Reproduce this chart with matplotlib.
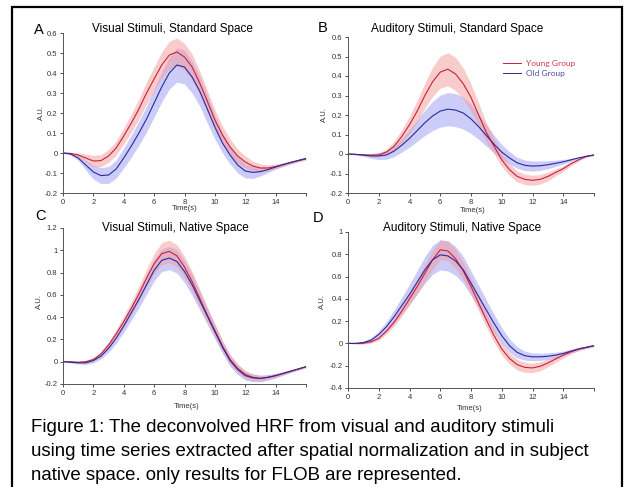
import numpy as np
import matplotlib.pyplot as plt
from matplotlib.patches import Rectangle

# time grid (s)
time_s = np.arange(0, 16.5, 0.5)

# A: visual, standard space
vis_std_young = [0, -0.002, -0.01, -0.025, -0.04, -0.038, -0.015, 0.025, 0.085, 0.15, 0.22, 0.30, 0.37,
                 0.44, 0.49, 0.505, 0.48, 0.43, 0.35, 0.26, 0.165, 0.09, 0.03, -0.015, -0.045, -0.065,
                 -0.075, -0.075, -0.068, -0.058, -0.048, -0.038, -0.03]
vis_std_old = [0, -0.005, -0.025, -0.06, -0.095, -0.113, -0.11, -0.08, -0.025, 0.035, 0.10, 0.17, 0.25,
               0.33, 0.40, 0.44, 0.43, 0.38, 0.31, 0.22, 0.13, 0.05, -0.01, -0.06, -0.09, -0.097,
               -0.093, -0.083, -0.07, -0.058, -0.047, -0.037, -0.027]
vis_std_young_err = [0, 0.005, 0.01, 0.02, 0.028, 0.03, 0.032, 0.035, 0.04, 0.045, 0.05, 0.055, 0.06,
                     0.065, 0.068, 0.07, 0.068, 0.065, 0.06, 0.055, 0.05, 0.045, 0.04, 0.035, 0.03,
                     0.025, 0.02, 0.015, 0.012, 0.01, 0.008, 0.006, 0.005]
vis_std_old_err = [0, 0.005, 0.012, 0.025, 0.035, 0.04, 0.042, 0.045, 0.05, 0.055, 0.06, 0.065, 0.07,
                   0.075, 0.08, 0.085, 0.085, 0.08, 0.075, 0.07, 0.06, 0.05, 0.045, 0.04, 0.035, 0.03,
                   0.022, 0.015, 0.01, 0.008, 0.006, 0.005, 0.004]

# B: auditory, standard space
aud_std_young = [0, -0.002, -0.005, -0.006, -0.005, 0.01, 0.04, 0.09, 0.15, 0.22, 0.30, 0.37, 0.42,
                 0.435, 0.41, 0.36, 0.29, 0.20, 0.11, 0.04, -0.03, -0.08, -0.115, -0.13, -0.135, -0.13,
                 -0.115, -0.095, -0.075, -0.05, -0.03, -0.012, -0.005]
aud_std_old = [0, -0.002, -0.005, -0.01, -0.01, -0.005, 0.015, 0.045, 0.08, 0.12, 0.16, 0.195, 0.22,
               0.23, 0.225, 0.21, 0.18, 0.14, 0.095, 0.05, 0.01, -0.02, -0.045, -0.058, -0.062, -0.06,
               -0.055, -0.048, -0.04, -0.03, -0.02, -0.012, -0.005]
aud_std_young_err = [0, 0.003, 0.005, 0.008, 0.01, 0.015, 0.025, 0.035, 0.045, 0.055, 0.065, 0.075,
                     0.082, 0.085, 0.085, 0.08, 0.07, 0.06, 0.05, 0.04, 0.035, 0.03, 0.028, 0.027,
                     0.026, 0.025, 0.022, 0.018, 0.014, 0.01, 0.007, 0.004, 0.002]
aud_std_old_err = [0, 0.003, 0.006, 0.012, 0.018, 0.022, 0.028, 0.035, 0.045, 0.055, 0.065, 0.075,
                   0.082, 0.085, 0.085, 0.082, 0.075, 0.065, 0.055, 0.045, 0.038, 0.032, 0.028, 0.027,
                   0.026, 0.024, 0.02, 0.016, 0.012, 0.008, 0.005, 0.003, 0.002]

# C: visual, native space
vis_nat_young = [0, 0, -0.005, 0.0, 0.02, 0.07, 0.15, 0.25, 0.36, 0.48, 0.61, 0.75, 0.88, 0.97, 0.99,
                 0.95, 0.85, 0.72, 0.57, 0.42, 0.28, 0.14, 0.02, -0.06, -0.115, -0.14, -0.15, -0.14,
                 -0.125, -0.105, -0.085, -0.065, -0.045]
vis_nat_old = [0, -0.005, -0.01, -0.01, 0.01, 0.05, 0.12, 0.21, 0.32, 0.44, 0.56, 0.69, 0.82, 0.91,
               0.93, 0.90, 0.81, 0.69, 0.55, 0.41, 0.27, 0.13, 0.01, -0.07, -0.125, -0.145, -0.15,
               -0.14, -0.125, -0.105, -0.085, -0.065, -0.045]
vis_nat_young_err = [0, 0.005, 0.01, 0.012, 0.015, 0.02, 0.03, 0.04, 0.05, 0.06, 0.07, 0.08, 0.09, 0.1,
                     0.1, 0.1, 0.095, 0.09, 0.08, 0.07, 0.06, 0.05, 0.045, 0.04, 0.035, 0.03, 0.025,
                     0.02, 0.018, 0.015, 0.012, 0.01, 0.008]
vis_nat_old_err = [0, 0.005, 0.01, 0.015, 0.02, 0.025, 0.035, 0.045, 0.055, 0.065, 0.075, 0.085, 0.095,
                   0.1, 0.105, 0.105, 0.1, 0.095, 0.085, 0.075, 0.065, 0.055, 0.05, 0.045, 0.04, 0.035,
                   0.03, 0.025, 0.02, 0.015, 0.012, 0.01, 0.008]

# D: auditory, native space
aud_nat_young = [0, 0, 0.002, 0.015, 0.045, 0.11, 0.19, 0.29, 0.40, 0.51, 0.63, 0.75, 0.84, 0.83,
                 0.76, 0.65, 0.51, 0.36, 0.21, 0.07, -0.05, -0.135, -0.19, -0.215, -0.22, -0.205,
                 -0.175, -0.14, -0.105, -0.075, -0.05, -0.035, -0.02]
aud_nat_old = [0, 0, 0.008, 0.03, 0.08, 0.15, 0.24, 0.34, 0.44, 0.55, 0.66, 0.75, 0.795, 0.785, 0.74,
               0.66, 0.54, 0.42, 0.30, 0.18, 0.07, -0.02, -0.08, -0.11, -0.12, -0.12, -0.115, -0.105,
               -0.09, -0.07, -0.05, -0.035, -0.02]
aud_nat_young_err = [0, 0.004, 0.008, 0.012, 0.018, 0.025, 0.035, 0.045, 0.055, 0.065, 0.075, 0.085,
                     0.09, 0.09, 0.085, 0.08, 0.075, 0.07, 0.065, 0.06, 0.055, 0.05, 0.048, 0.045,
                     0.042, 0.04, 0.035, 0.03, 0.025, 0.02, 0.015, 0.01, 0.008]
aud_nat_old_err = [0, 0.005, 0.01, 0.02, 0.03, 0.045, 0.06, 0.075, 0.09, 0.105, 0.12, 0.13, 0.135,
                   0.135, 0.13, 0.12, 0.11, 0.1, 0.09, 0.08, 0.07, 0.06, 0.05, 0.04, 0.035, 0.032,
                   0.03, 0.026, 0.022, 0.018, 0.014, 0.01, 0.008]

titles = ["Visual Stimuli, Standard Space", "Auditory Stimuli, Standard Space",
          "Visual Stimuli, Native Space", "Auditory Stimuli, Native Space"]
letters = ["A", "B", "C", "D"]
caption_lines = ["Figure 1: The deconvolved HRF from visual and auditory stimuli",
                 "using time series extracted after spatial normalization and in subject",
                 "native space. only results for FLOB are represented."]

W, H = 628, 487
plt.rcParams['font.family'] = ['Liberation Sans', 'DejaVu Sans']
fig = plt.figure(figsize=(W / 100, H / 100), dpi=100)


def px(x, y):
    return x / W, 1 - y / H


def make_ax(left, top, right, bottom):
    return fig.add_axes([left / W, 1 - bottom / H, (right - left) / W, (bottom - top) / H])


panels = [
    (make_ax(63, 33, 306, 193), vis_std_young, vis_std_young_err, vis_std_old, vis_std_old_err,
     (-0.2, 0.6), [-0.2, -0.1, 0, 0.1, 0.2, 0.3, 0.4, 0.5, 0.6],
     ["-0.2", "-0.1", "0", "0.1", "0.2", "0.3", "0.4", "0.5", "0.6"]),
    (make_ax(348, 37, 594, 193), aud_std_young, aud_std_young_err, aud_std_old, aud_std_old_err,
     (-0.2, 0.6), [-0.2, -0.1, 0, 0.1, 0.2, 0.3, 0.4, 0.5, 0.6],
     ["-0.2", "-0.1", "0", "0.1", "0.2", "0.3", "0.4", "0.5", "0.6"]),
    (make_ax(63, 228, 306, 384), vis_nat_young, vis_nat_young_err, vis_nat_old, vis_nat_old_err,
     (-0.2, 1.2), [-0.2, 0, 0.2, 0.4, 0.6, 0.8, 1.0, 1.2],
     ["-0.2", "0", "0.2", "0.4", "0.6", "0.8", "1", "1.2"]),
    (make_ax(348, 232, 594, 388), aud_nat_young, aud_nat_young_err, aud_nat_old, aud_nat_old_err,
     (-0.4, 1.0), [-0.4, -0.2, 0, 0.2, 0.4, 0.6, 0.8, 1.0],
     ["-0.4", "-0.2", "0", "0.2", "0.4", "0.6", "0.8", "1"]),
]

red_line, blue_line = '#c8203c', '#2a2a9c'
red_fill, blue_fill = '#f59a9a', '#9a9af5'

for ax, yo, yo_e, ol, ol_e, ylim, yt, ytl in panels:
    yo, yo_e, ol, ol_e = map(np.array, (yo, yo_e, ol, ol_e))
    ax.fill_between(time_s, ol - ol_e, ol + ol_e, color=blue_fill, alpha=0.5, lw=0)
    ax.fill_between(time_s, yo - yo_e, yo + yo_e, color=red_fill, alpha=0.5, lw=0)
    ax.plot(time_s, yo, color=red_line, lw=0.8, label='Young Group')
    ax.plot(time_s, ol, color=blue_line, lw=0.8, label='Old Group')
    ax.set_xlim(0, 16)
    ax.set_ylim(*ylim)
    ax.set_xticks(range(0, 17, 2))
    ax.set_xticklabels([str(v) for v in range(0, 15, 2)] + [""])
    ax.set_yticks(yt)
    ax.set_yticklabels(ytl)
    ax.tick_params(labelsize=5.5, length=2, width=0.6, pad=2, colors='#333333')
    for s in ['top', 'right']:
        ax.spines[s].set_visible(False)
    for s in ['left', 'bottom']:
        ax.spines[s].set_linewidth(0.7)
        ax.spines[s].set_color('#555555')
    ax.patch.set_alpha(0)

leg = panels[1][0].legend(loc='upper left', bbox_to_anchor=(0.6, 0.9), frameon=False,
                          handlelength=2.2, handletextpad=0.5, labelspacing=0.3,
                          labelcolor=['#d03a4a', '#4a4ab0'], prop={'family': 'Lato', 'size': 6})
for line in leg.get_lines():
    line.set_linewidth(0.7)

# titles, letters and axis labels
title_pos = [(172, 29), (457, 29), (175, 228), (462, 228)]
letter_pos = [(39, 30), (323, 28), (40, 216), (318, 218)]
ylab_pos = [(41, 113), (324, 115), (39, 302), (322, 302)]
xlab_pos = [(185, 209), (473, 211), (187, 407), (470, 409)]
for i in range(4):
    fig.text(*px(*title_pos[i]), titles[i], ha='center', va='center', fontsize=8.5)
    fig.text(*px(*letter_pos[i]), letters[i], ha='center', va='center', fontsize=10.5)
    fig.text(*px(*ylab_pos[i]), "A.U.", ha='center', va='center', fontsize=5.5,
             rotation=90, color='#333333')
    fig.text(*px(*xlab_pos[i]), "Time(s)", ha='center', va='center', fontsize=5.5,
             color='#333333')

for i, line in enumerate(caption_lines):
    fig.text(*px(31, 428 + 24 * i), line, ha='left', va='center', fontsize=13.4)

# outer frame
fig.add_artist(Rectangle(px(12, 520), (622 - 12) / W, (520 - 7) / H, transform=fig.transFigure,
                         fill=False, edgecolor='black', lw=1.6))

fig.savefig('out.png', dpi=100)
